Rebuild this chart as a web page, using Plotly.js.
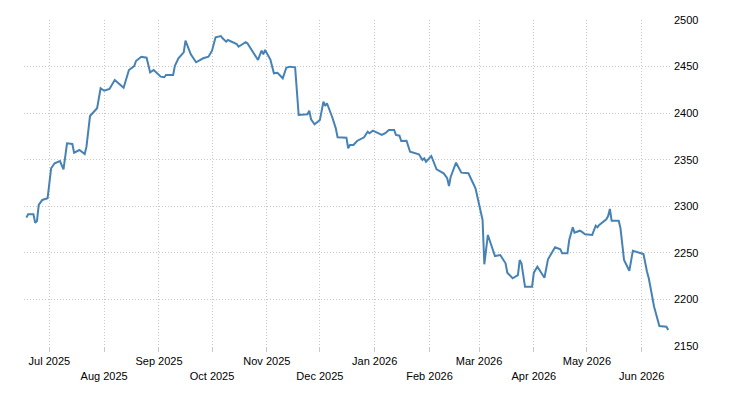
<!DOCTYPE html>
<html>
<head>
<meta charset="utf-8">
<script src="https://cdn.plot.ly/plotly-3.0.1.min.js"></script>
<style>
  html, body { margin: 0; padding: 0; background: #fff; }
  #chart { width: 730px; height: 400px; }
</style>
</head>
<body>
<div id="chart"></div>
<script>
var dates = [
  '2025-06-18','2025-06-19','2025-06-22','2025-06-23','2025-06-24','2025-06-25','2025-06-27','2025-06-30',
  '2025-07-02','2025-07-04','2025-07-07','2025-07-09','2025-07-11','2025-07-14','2025-07-15','2025-07-18','2025-07-21','2025-07-22','2025-07-24','2025-07-28','2025-07-30',
  '2025-08-01','2025-08-04','2025-08-07','2025-08-12','2025-08-15','2025-08-18','2025-08-19','2025-08-22','2025-08-25','2025-08-27','2025-08-29',
  '2025-09-02','2025-09-04','2025-09-05','2025-09-09','2025-09-10','2025-09-12','2025-09-15','2025-09-16','2025-09-19','2025-09-22','2025-09-26','2025-09-29',
  '2025-10-01','2025-10-03','2025-10-06','2025-10-07','2025-10-09','2025-10-10','2025-10-15','2025-10-16','2025-10-20','2025-10-21','2025-10-27','2025-10-29','2025-10-30','2025-10-31',
  '2025-11-03','2025-11-05','2025-11-07','2025-11-10','2025-11-12','2025-11-14','2025-11-17','2025-11-19','2025-11-24','2025-11-25','2025-11-26','2025-11-28',
  '2025-12-01','2025-12-03','2025-12-04','2025-12-05','2025-12-08','2025-12-10','2025-12-11','2025-12-16','2025-12-17','2025-12-18','2025-12-20','2025-12-22','2025-12-26','2025-12-28','2025-12-29','2025-12-31',
  '2026-01-05','2026-01-07','2026-01-09','2026-01-12','2026-01-13','2026-01-15','2026-01-16','2026-01-19','2026-01-21','2026-01-26','2026-01-28','2026-01-29','2026-01-30',
  '2026-02-02','2026-02-05','2026-02-09','2026-02-11','2026-02-12','2026-02-13','2026-02-16','2026-02-19','2026-02-23','2026-02-27',
  '2026-03-02','2026-03-03','2026-03-04','2026-03-06','2026-03-10','2026-03-13','2026-03-16','2026-03-17','2026-03-20','2026-03-23','2026-03-24','2026-03-25','2026-03-27','2026-03-31',
  '2026-04-01','2026-04-03','2026-04-07','2026-04-09','2026-04-13','2026-04-16','2026-04-17','2026-04-20','2026-04-21','2026-04-23','2026-04-24','2026-04-27','2026-04-28','2026-04-30',
  '2026-05-04','2026-05-06','2026-05-07','2026-05-08','2026-05-12','2026-05-13','2026-05-14','2026-05-15','2026-05-19','2026-05-20','2026-05-22','2026-05-25','2026-05-27',
  '2026-06-02','2026-06-04','2026-06-05','2026-06-08','2026-06-11','2026-06-15','2026-06-16'
];

var prices = [
  2287.8, 2291.4, 2291.4, 2282.4, 2284.2, 2301.4, 2306.8, 2308.6,
  2340.8, 2346.2, 2348.6, 2339.7, 2367.6, 2366.9, 2357.5, 2360.4, 2356.2, 2364.0, 2396.9, 2405.2, 2426.7,
  2424.1, 2425.9, 2435.6, 2427.3, 2446.3, 2450.6, 2456.0, 2460.6, 2459.5, 2443.7, 2446.3,
  2439.2, 2438.5, 2441.0, 2441.0, 2450.9, 2458.9, 2465.3, 2477.8, 2463.2, 2454.6, 2458.9, 2460.6,
  2467.1, 2481.4, 2482.8, 2480.3, 2476.7, 2478.5, 2474.2, 2471.3, 2476.1, 2475.0, 2457.1, 2467.1, 2463.2, 2467.8,
  2457.5, 2442.8, 2443.4, 2437.4, 2448.8, 2449.9, 2449.2, 2398.0, 2398.8, 2402.6, 2393.4, 2388.0,
  2392.7, 2412.3, 2407.7, 2410.6, 2395.6, 2383.7, 2374.1, 2373.7, 2362.3, 2365.8, 2365.8, 2370.1, 2374.1, 2380.1, 2378.4, 2381.2,
  2376.6, 2378.4, 2381.9, 2381.9, 2376.6, 2375.8, 2370.1, 2370.4, 2358.6, 2355.8, 2349.7, 2351.5, 2347.9,
  2354.0, 2339.7, 2335.4, 2330.1, 2321.8, 2331.8, 2346.8, 2336.1, 2335.4, 2319.3,
  2291.4, 2285.3, 2237.7, 2269.2, 2246.6, 2247.7, 2238.8, 2228.7, 2222.7, 2226.2, 2242.3, 2238.8, 2213.7, 2213.7,
  2228.7, 2235.1, 2223.3, 2243.1, 2256.0, 2253.8, 2249.5, 2249.5, 2263.8, 2277.4, 2271.7, 2273.8, 2272.7, 2269.9,
  2269.2, 2279.2, 2277.4, 2279.9, 2286.0, 2289.5, 2297.1, 2284.5, 2284.5, 2276.4, 2242.3, 2230.8, 2252.3,
  2248.8, 2229.8, 2222.7, 2192.2, 2171.5, 2170.7, 2167.2
];

var tickDates = ['2025-07-01','2025-08-01','2025-09-01','2025-10-01','2025-11-01','2025-12-01',
                 '2026-01-01','2026-02-01','2026-03-01','2026-04-01','2026-05-01','2026-06-01'];
var tickLabels = ['Jul 2025','Aug 2025','Sep 2025','Oct 2025','Nov 2025','Dec 2025',
                  'Jan 2026','Feb 2026','Mar 2026','Apr 2026','May 2026','Jun 2026'];

// every second label goes on a lower row
var tickText = tickLabels.map(function(t, i) {
    return i % 2 == 1 ? '<br>' + t : t;
});

var trace = {
    x: dates,
    y: prices,
    type: 'scatter',
    mode: 'lines',
    line: { color: '#4682b4', width: 2 },
    hoverinfo: 'x+y'
};

var layout = {
    width: 730,
    height: 400,
    margin: { l: 24, r: 60, t: 20, b: 54 },
    paper_bgcolor: '#fff',
    plot_bgcolor: '#fff',
    showlegend: false,
    font: { family: 'Liberation Sans, Arial, sans-serif', size: 11, color: '#000' },
    xaxis: {
        type: 'date',
        range: ['2025-06-16 16:00', '2026-06-17'],
        tickvals: tickDates,
        ticktext: tickText,
        tickangle: 0,
        showgrid: true,
        gridcolor: '#c8c8c8',
        griddash: '1px,2px',
        gridwidth: 1,
        ticks: 'outside',
        ticklen: 5,
        tickcolor: '#c8c8c8',
        showline: false,
        zeroline: false
    },
    yaxis: {
        side: 'right',
        range: [2150, 2500],
        dtick: 50,
        tick0: 2150,
        showgrid: true,
        gridcolor: '#c8c8c8',
        griddash: '1px,2px',
        gridwidth: 1,
        ticks: '',
        ticklabelstandoff: 3,
        showline: false,
        zeroline: false
    }
};

Plotly.newPlot('chart', [trace], layout, { displayModeBar: false, staticPlot: true });
</script>
</body>
</html>
